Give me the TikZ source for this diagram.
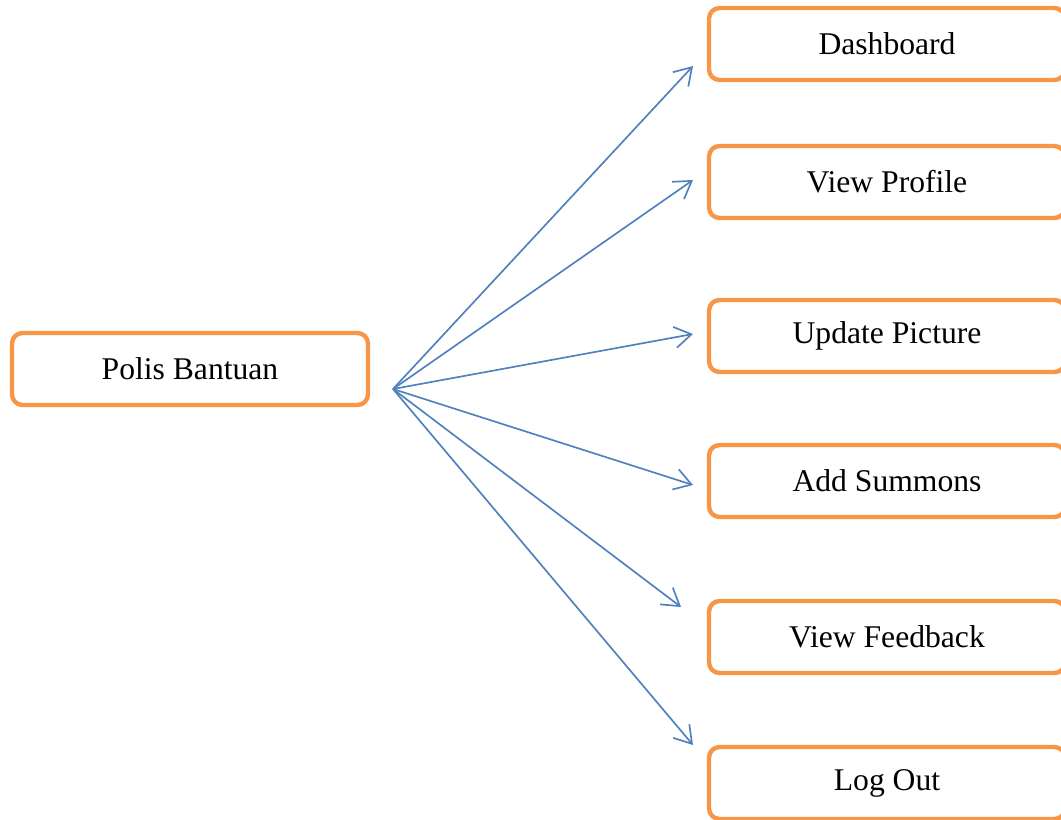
\documentclass[tikz,border=0pt]{standalone}
\usepackage{fontspec}
\setmainfont{Liberation Serif}
\usetikzlibrary{arrows.meta}
\definecolor{boxorange}{HTML}{F79646}
\definecolor{linkblue}{HTML}{4F81BD}

\begin{document}
\begin{tikzpicture}[x=0.02cm,y=-0.02cm,
                    menu/.style={draw=boxorange,line width=2.5pt,rounded corners=6pt,
                                 minimum width=7.12cm,minimum height=1.44cm,
                                 font=\fontsize{18}{21}\selectfont},
                    link/.style={draw=linkblue,line width=0.95pt,
                                 -{Straight Barb[length=9.5pt,width=12pt]}}]
            \clip (0,0) rectangle (1061,819);
            \node[menu] (polis) at (190,369) {Polis Bantuan};
            \node[menu] (dash) at (887,44) {Dashboard};
            \node[menu] (profile) at (887,182) {View Profile};
            \node[menu] (picture) at (887,336) {Update Picture};
            \node[menu] (summons) at (887,481) {Add Summons};
            \node[menu] (feedback) at (887,637) {View Feedback};
            \node[menu] (logout) at (887,783) {Log Out};
            \coordinate (hub) at (393,389);
            \coordinate (dash-in) at (693,66);
            \coordinate (profile-in) at (693,180);
            \coordinate (picture-in) at (693,334);
            \coordinate (summons-in) at (693,485);
            \coordinate (feedback-in) at (681,607);
            \coordinate (logout-in) at (693,745);
            \foreach \m in {dash,profile,picture,summons,feedback,logout}
                \draw[link] (hub) -- (\m-in);
        \end{tikzpicture}
\end{document}
